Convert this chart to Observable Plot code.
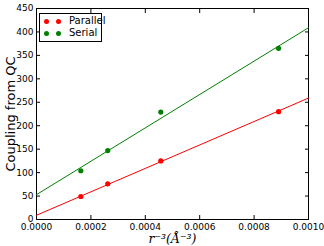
<!DOCTYPE html>
<html><head><meta charset="utf-8">
<script src="https://cdn.jsdelivr.net/npm/d3@7"></script>
<script src="https://cdn.jsdelivr.net/npm/@observablehq/plot@0.6"></script>
<style>
body{margin:0;background:#fff;}
#wrap{position:relative;width:324px;height:246px;font-family:"DejaVu Sans",sans-serif;}
#legend{position:absolute;left:39px;top:13px;width:61px;height:27px;border:1px solid #000;background:#fff;font-size:10px;}
.row{position:absolute;left:0;height:12px;line-height:12px;}
.dot{position:absolute;width:5px;height:5px;border-radius:50%;top:3.5px;}
.lab{position:absolute;left:29px;top:0;white-space:nowrap;}
</style></head>
<body><div id="wrap"></div>
<script>
const seriesNames = ["Parallel", "Serial"];
const colors = ["#ff0000", "#008000"];
const xVals = [0.000163, 0.000262, 0.000457, 0.00089];
const parallelVals = [49, 76, 125, 230];
const serialVals = [104, 147, 229, 365];
const parallelFit = [[0, 9], [0.001, 259]];
const serialFit = [[0, 53], [0.001, 409]];
const xTicks = [0, 0.0002, 0.0004, 0.0006, 0.0008, 0.001];
const yTicks = [0, 50, 100, 150, 200, 250, 300, 350, 400, 450];

const pts = [];
xVals.forEach((x, i) => { pts.push({x, y: parallelVals[i], s: "Parallel"}); pts.push({x, y: serialVals[i], s: "Serial"}); });
const fits = [
  ...parallelFit.map(([x, y]) => ({x, y, s: "Parallel"})),
  ...serialFit.map(([x, y]) => ({x, y, s: "Serial"}))
];

const chart = Plot.plot({
  width: 324, height: 246,
  marginLeft: 36, marginRight: 16, marginTop: 8, marginBottom: 27,
  style: {fontFamily: "DejaVu Sans, sans-serif", fontSize: "9px", color: "#000"},
  x: {domain: [0, 0.001]},
  y: {domain: [0, 450]},
  color: {domain: seriesNames, range: colors},
  marks: [
    Plot.frame({stroke: "#000", strokeWidth: 1}),
    Plot.axisX({ticks: xTicks, tickSize: -4, tickPadding: 8, tickFormat: d => d3.format(".4f")(d), label: null}),
    Plot.axisX({ticks: xTicks, anchor: "top", tickSize: -4, tickFormat: () => "", label: null}),
    Plot.axisY({ticks: yTicks, tickSize: -4, tickPadding: 7, label: null}),
    Plot.axisY({ticks: yTicks, anchor: "right", tickSize: -4, tickFormat: () => "", label: null}),
    Plot.line(fits, {x: "x", y: "y", z: "s", stroke: "s", strokeWidth: 1}),
    Plot.dot(pts, {x: "x", y: "y", fill: "s", r: 2.6}),
    Plot.text(["Coupling from QC"], {frameAnchor: "left", dx: -26, rotate: -90, textAnchor: "middle", fontSize: 13, text: d => d, fill: "#000"}),
    Plot.text(["r⁻³(Å⁻³)"], {frameAnchor: "bottom", dy: 23.5, textAnchor: "middle", fontSize: 12.5, fontFamily: "DejaVu Serif, serif", fontStyle: "italic", text: d => d, fill: "#000"})
  ]
});
const wrap = document.getElementById("wrap");
wrap.appendChild(chart);
const leg = document.createElement("div");
leg.id = "legend";
seriesNames.forEach((n, i) => {
  const row = document.createElement("div");
  row.className = "row";
  row.style.top = (i * 12 + 1) + "px";
  row.style.width = "60px";
  row.innerHTML = `<span class="dot" style="left:4px;background:${colors[i]}"></span><span class="dot" style="left:16px;background:${colors[i]}"></span><span class="lab">${n}</span>`;
  leg.appendChild(row);
});
wrap.appendChild(leg);
</script></body></html>
